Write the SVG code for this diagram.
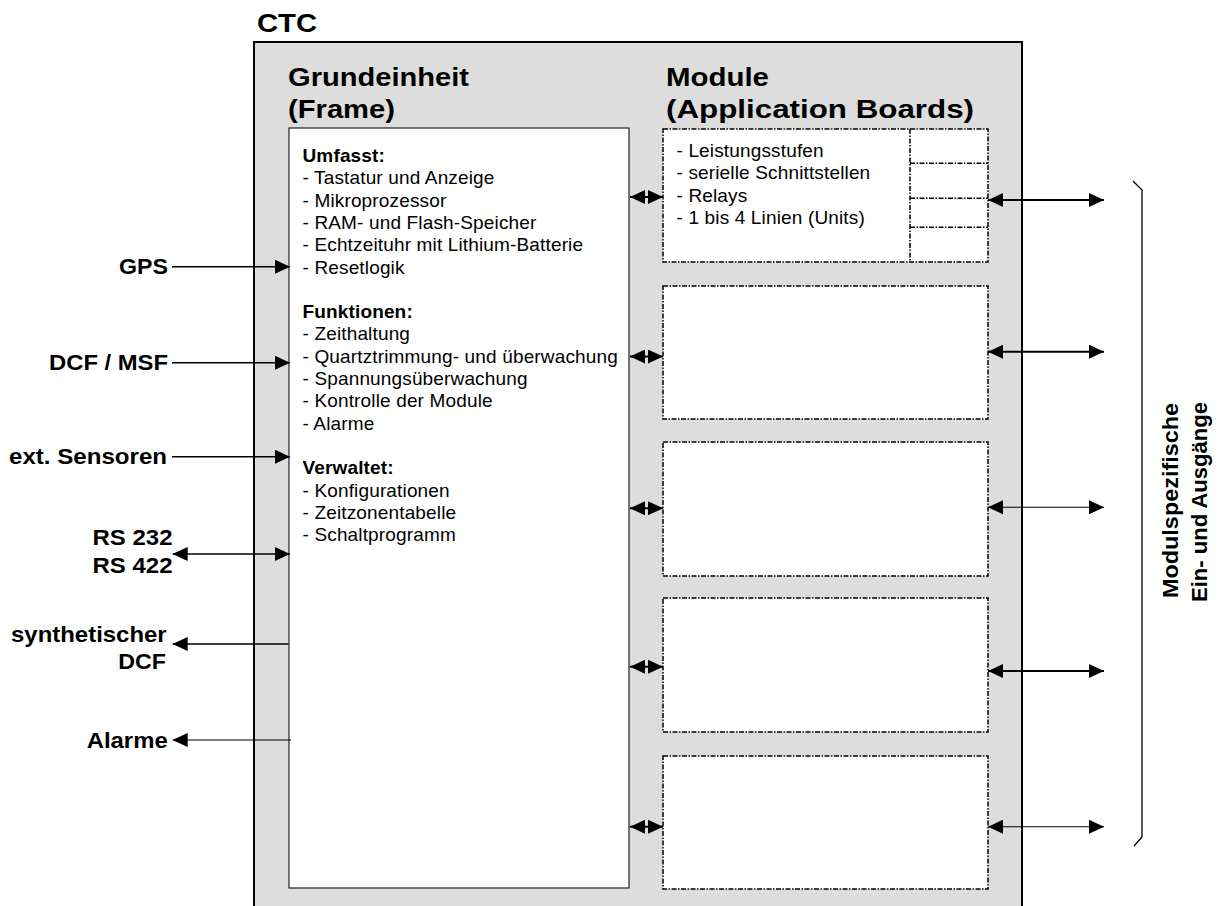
<svg xmlns="http://www.w3.org/2000/svg" width="1231" height="906" viewBox="0 0 1231 906">
<style>
  .b { font-family: "Liberation Sans", Arial, sans-serif; font-weight: bold; fill: #000; }
  .h { font-size: 25px; }
  .lbl { font-size: 22px; }
  .body { font-family: "Liberation Sans", Arial, sans-serif; font-size: 19px; letter-spacing: 0.15px; fill: #000; }
  .sub { font-weight: bold; }
  .mod { fill: #fff; stroke: #000; stroke-width: 1.5; stroke-dasharray: 5 1.5 1.5 1.5; }
  .div { fill: none; stroke: #000; stroke-width: 1.5; stroke-dasharray: 5 1.5 1.5 1.5; }
  .c { fill: none; stroke: #000; }
  .thick { stroke-width: 2; }
  .med { stroke-width: 1.5; }
  .thin { stroke-width: 1.1; }
</style>
<defs>
  <marker id="ah" viewBox="0 0 15 14" markerWidth="15" markerHeight="14" refX="15" refY="7" orient="auto-start-reverse" markerUnits="userSpaceOnUse">
    <path d="M0,0 L15,7 L0,14 Z" fill="#000"/>
  </marker>
</defs>

<g id="ctc">
  <text class="b" x="257" y="32" font-size="26" textLength="60" lengthAdjust="spacingAndGlyphs">CTC</text>
  <rect x="254" y="42" width="768" height="880" fill="#dddddd" stroke="#000" stroke-width="2"/>
</g>

<g id="frame">
  <text class="b h" x="288" y="86" textLength="181" lengthAdjust="spacingAndGlyphs">Grundeinheit</text>
  <text class="b h" x="288" y="118" textLength="107" lengthAdjust="spacingAndGlyphs">(Frame)</text>
  <rect x="289" y="128" width="340" height="760" fill="#fff" stroke="#222" stroke-width="1.2"/>
  <text class="body" x="302.5">
    <tspan class="sub" x="302.5" y="162">Umfasst:</tspan>
    <tspan x="302.5" y="184.3">- Tastatur und Anzeige</tspan>
    <tspan x="302.5" y="206.6">- Mikroprozessor</tspan>
    <tspan x="302.5" y="228.9">- RAM- und Flash-Speicher</tspan>
    <tspan x="302.5" y="251.2">- Echtzeituhr mit Lithium-Batterie</tspan>
    <tspan x="302.5" y="273.5">- Resetlogik</tspan>
    <tspan class="sub" x="302.5" y="318.1">Funktionen:</tspan>
    <tspan x="302.5" y="340.4">- Zeithaltung</tspan>
    <tspan x="302.5" y="362.7">- Quartztrimmung- und überwachung</tspan>
    <tspan x="302.5" y="385">- Spannungsüberwachung</tspan>
    <tspan x="302.5" y="407.3">- Kontrolle der Module</tspan>
    <tspan x="302.5" y="429.6">- Alarme</tspan>
    <tspan class="sub" x="302.5" y="474.2">Verwaltet:</tspan>
    <tspan x="302.5" y="496.5">- Konfigurationen</tspan>
    <tspan x="302.5" y="518.8">- Zeitzonentabelle</tspan>
    <tspan x="302.5" y="541.1">- Schaltprogramm</tspan>
  </text>
</g>

<g id="modules-title">
  <text class="b h" x="666" y="86" textLength="103" lengthAdjust="spacingAndGlyphs">Module</text>
  <text class="b h" x="666" y="118" textLength="308" lengthAdjust="spacingAndGlyphs">(Application Boards)</text>
</g>

<g id="module1">
  <rect class="mod" x="663" y="129" width="325" height="133"/>
  <path class="div" d="M910,129 V262 M910,163.3 H988 M910,198.3 H988 M910,227.3 H988"/>
  <text class="body" x="676.5">
    <tspan x="676.5" y="156.7">- Leistungsstufen</tspan>
    <tspan x="676.5" y="179.1">- serielle Schnittstellen</tspan>
    <tspan x="676.5" y="201.5">- Relays</tspan>
    <tspan x="676.5" y="223.9">- 1 bis 4 Linien (Units)</tspan>
  </text>
</g>
<g id="module2"><rect class="mod" x="663" y="286" width="325" height="133"/></g>
<g id="module3"><rect class="mod" x="663" y="442" width="325" height="134"/></g>
<g id="module4"><rect class="mod" x="663" y="598" width="325" height="134"/></g>
<g id="module5"><rect class="mod" x="663" y="756" width="325" height="133"/></g>

<g id="labels">
  <text class="b lbl" x="168" y="274.3" text-anchor="end" textLength="49" lengthAdjust="spacingAndGlyphs">GPS</text>
  <text class="b lbl" x="168" y="369.5" text-anchor="end" textLength="119" lengthAdjust="spacingAndGlyphs">DCF / MSF</text>
  <text class="b lbl" x="167" y="464" text-anchor="end" textLength="158" lengthAdjust="spacingAndGlyphs">ext. Sensoren</text>
  <text class="b lbl" x="172.5" y="545" text-anchor="end" textLength="80" lengthAdjust="spacingAndGlyphs">RS 232</text>
  <text class="b lbl" x="172.5" y="573.3" text-anchor="end" textLength="80" lengthAdjust="spacingAndGlyphs">RS 422</text>
  <text class="b lbl" x="166.7" y="641.7" text-anchor="end" textLength="155.7" lengthAdjust="spacingAndGlyphs">synthetischer</text>
  <text class="b lbl" x="166" y="669.3" text-anchor="end" textLength="47.7" lengthAdjust="spacingAndGlyphs">DCF</text>
  <text class="b lbl" x="167.7" y="748.3" text-anchor="end" textLength="81" lengthAdjust="spacingAndGlyphs">Alarme</text>
</g>

<g id="io-label">
  <path class="c" d="M1133,181 L1142,190 L1142,837 L1134,846" stroke="#111" stroke-width="1.3"/>
  <text class="b" font-size="22" transform="translate(1178,500.5) rotate(-90)" text-anchor="middle" textLength="195" lengthAdjust="spacingAndGlyphs">Modulspezifische</text>
  <text class="b" font-size="22" transform="translate(1206.5,502) rotate(-90)" text-anchor="middle" textLength="200" lengthAdjust="spacingAndGlyphs">Ein- und Ausgänge</text>
</g>

<g id="connectors">
  <line class="c med" x1="172" y1="266.7" x2="290" y2="266.7" marker-end="url(#ah)"/>
  <line class="c med" x1="172" y1="362.7" x2="290" y2="362.7" marker-end="url(#ah)"/>
  <line class="c med" x1="172" y1="456.7" x2="290" y2="456.7" marker-end="url(#ah)"/>
  <line class="c med" x1="172.7" y1="554" x2="290" y2="554" marker-start="url(#ah)" marker-end="url(#ah)"/>
  <line class="c med" x1="288.5" y1="644" x2="172.7" y2="644" marker-end="url(#ah)"/>
  <line class="c thin" x1="291" y1="740" x2="172.7" y2="740" marker-end="url(#ah)"/>

  <line class="c thick" x1="630" y1="197" x2="663" y2="197" marker-start="url(#ah)" marker-end="url(#ah)"/>
  <line class="c thick" x1="630" y1="356.5" x2="663" y2="356.5" marker-start="url(#ah)" marker-end="url(#ah)"/>
  <line class="c thick" x1="630" y1="508.3" x2="663" y2="508.3" marker-start="url(#ah)" marker-end="url(#ah)"/>
  <line class="c thick" x1="630" y1="666.7" x2="663" y2="666.7" marker-start="url(#ah)" marker-end="url(#ah)"/>
  <line class="c thick" x1="630" y1="826.7" x2="663" y2="826.7" marker-start="url(#ah)" marker-end="url(#ah)"/>

  <line class="c thick" x1="988" y1="200" x2="1104" y2="200" marker-start="url(#ah)" marker-end="url(#ah)"/>
  <line class="c thick" x1="988" y1="351.7" x2="1104" y2="351.7" marker-start="url(#ah)" marker-end="url(#ah)"/>
  <line class="c thin" x1="988" y1="507.3" x2="1104" y2="507.3" marker-start="url(#ah)" marker-end="url(#ah)"/>
  <line class="c thick" x1="988" y1="671" x2="1104" y2="671" marker-start="url(#ah)" marker-end="url(#ah)"/>
  <line class="c thin" x1="988" y1="826.7" x2="1104" y2="826.7" marker-start="url(#ah)" marker-end="url(#ah)"/>
</g>
</svg>
